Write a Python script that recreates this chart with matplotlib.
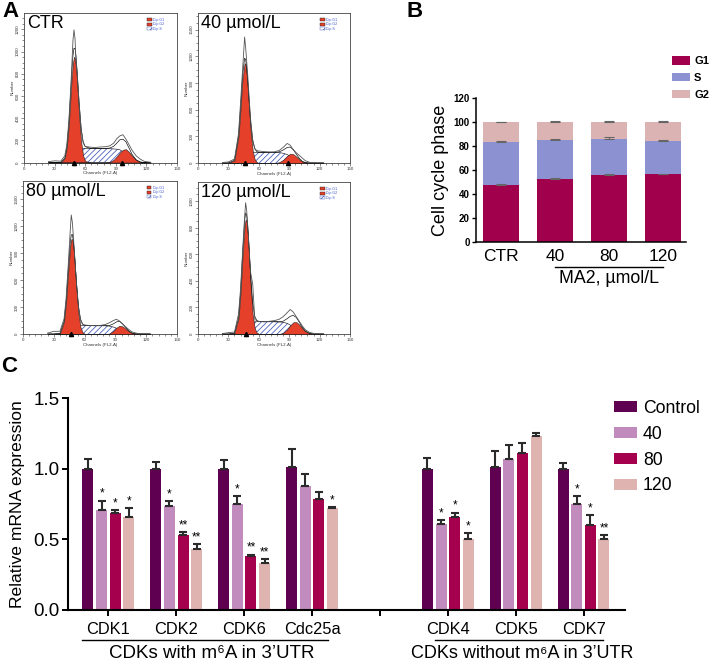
import matplotlib
matplotlib.use("Agg")
import matplotlib.pyplot as plt
import matplotlib.transforms as mtrans
import numpy as np
from matplotlib.patches import Patch
from matplotlib.ticker import MultipleLocator

plt.rcParams["font.family"] = ["Liberation Sans", "DejaVu Sans"]
plt.rcParams["hatch.linewidth"] = 0.55

# ---------------- panel A: DNA histograms (counts per channel) ----------------
CHANNELS = [24, 30, 36, 40, 42, 44, 46, 47, 48, 49, 50, 51, 52, 54, 56, 58, 60,
            65, 70, 75, 80, 84, 88, 91, 94, 97, 100, 103, 106, 110, 114, 118, 124]

CTR_RAW = [8, 15, 12, 60, 160, 380, 700, 900, 1100, 1195, 1120, 900, 820, 540, 300, 175, 145,
           138, 135, 140, 142, 150, 175, 215, 240, 250, 210, 160, 110, 60, 30, 10, 2]
CTR_G1 = [0, 0, 0, 40, 137, 342, 642, 787, 898, 952, 938, 860, 732, 427, 186, 60, 15,
          0, 0, 0, 0, 0, 0, 0, 0, 0, 0, 0, 0, 0, 0, 0, 0]
CTR_S = [0, 0, 0, 0, 0, 10, 35, 50, 65, 78, 90, 100, 108, 120, 127, 128, 128,
         127, 126, 126, 127, 125, 122, 120, 115, 95, 65, 35, 12, 2, 0, 0, 0]
CTR_G2 = [0, 0, 0, 0, 0, 0, 0, 0, 0, 0, 0, 0, 0, 0, 0, 0, 0,
          0, 0, 0, 0, 5, 25, 55, 90, 115, 120, 95, 60, 22, 5, 0, 0]
CTR_MARKS = [49.5, 96]

D40_RAW = [5, 12, 45, 330, 680, 1050, 1417, 1300, 1150, 1000, 820, 640, 480, 260, 165, 140, 135,
           128, 125, 125, 140, 175, 220, 200, 150, 115, 85, 55, 25, 8, 3, 1, 0]
D40_G1 = [0, 0, 31, 297, 611, 952, 1124, 1100, 1006, 858, 683, 507, 351, 138, 41, 9, 1,
          0, 0, 0, 0, 0, 0, 0, 0, 0, 0, 0, 0, 0, 0, 0, 0]
D40_S = [0, 0, 0, 5, 15, 35, 55, 65, 75, 85, 95, 102, 108, 115, 118, 120, 120,
         119, 118, 118, 117, 110, 95, 75, 50, 28, 12, 4, 0, 0, 0, 0, 0]
D40_G2 = [0, 0, 0, 0, 0, 0, 0, 0, 0, 0, 0, 0, 0, 0, 0, 0, 0,
          0, 0, 0, 8, 35, 80, 105, 100, 72, 40, 15, 5, 0, 0, 0, 0]
D40_MARKS = [46, 89]

D80_RAW = [10, 30, 30, 170, 400, 760, 1150, 1327, 1250, 1100, 930, 750, 580, 300, 150, 110, 100,
           95, 93, 95, 105, 125, 150, 164, 145, 110, 80, 50, 25, 10, 4, 2, 0]
D80_G1 = [0, 0, 8, 137, 354, 683, 983, 1057, 1057, 983, 849, 683, 510, 228, 76, 19, 3,
          0, 0, 0, 0, 0, 0, 0, 0, 0, 0, 0, 0, 0, 0, 0, 0]
D80_S = [0, 0, 0, 2, 8, 20, 35, 45, 55, 63, 70, 76, 81, 88, 92, 93, 93,
         93, 92, 92, 92, 88, 78, 65, 48, 30, 15, 5, 0, 0, 0, 0, 0]
D80_G2 = [0, 0, 0, 0, 0, 0, 0, 0, 0, 0, 0, 0, 0, 0, 0, 0, 0,
          0, 0, 0, 0, 5, 35, 70, 92, 85, 58, 30, 12, 3, 0, 0, 0]
D80_MARKS = [47]

D120_RAW = [3, 10, 15, 150, 340, 620, 880, 986, 930, 820, 700, 570, 460, 375, 110, 100, 95,
            92, 95, 100, 110, 130, 160, 184, 165, 130, 95, 60, 32, 12, 5, 2, 0]
D120_G1 = [0, 0, 7, 117, 303, 580, 815, 862, 841, 760, 637, 494, 354, 145, 43, 10, 2,
           0, 0, 0, 0, 0, 0, 0, 0, 0, 0, 0, 0, 0, 0, 0, 0]
D120_S = [0, 0, 0, 3, 10, 22, 38, 47, 55, 63, 70, 76, 80, 87, 91, 92, 92,
          92, 92, 92, 91, 88, 80, 68, 52, 34, 18, 7, 2, 0, 0, 0, 0]
D120_G2 = [0, 0, 0, 0, 0, 0, 0, 0, 0, 0, 0, 0, 0, 0, 0, 0, 0,
           0, 0, 0, 0, 8, 35, 65, 88, 90, 70, 42, 20, 5, 0, 0, 0]
D120_MARKS = [47]

# ---------------- panel B: cell cycle distribution (%) ----------------
B_GROUPS = ["CTR", "40", "80", "120"]
G1_PCT = [47.8, 52.5, 56.0, 56.3]
S_PCT = [35.9, 32.9, 30.0, 28.0]
G2_PCT = [16.3, 14.6, 14.0, 15.7]
G1_ERR = [0.8, 0.6, 0.9, 0.7]
S_ERR = [0.8, 0.5, 1.6, 0.5]
G2_ERR = [0.5, 0.7, 1.4, 1.1]

# ---------------- panel C: relative mRNA expression ----------------
GENES = ["CDK1", "CDK2", "CDK6", "Cdc25a", "", "CDK4", "CDK5", "CDK7"]
DOSES = ["Control", "40", "80", "120"]
EXPR = {
    "Control": [1.00, 1.00, 1.00, 1.01, np.nan, 1.00, 1.01, 1.00],
    "40":      [0.71, 0.74, 0.75, 0.88, np.nan, 0.61, 1.07, 0.75],
    "80":      [0.69, 0.53, 0.385, 0.79, np.nan, 0.66, 1.11, 0.60],
    "120":     [0.66, 0.43, 0.33, 0.72, np.nan, 0.50, 1.236, 0.50],
}
EXPR_ERR = {
    "Control": [0.07, 0.05, 0.065, 0.13, np.nan, 0.08, 0.12, 0.04],
    "40":      [0.065, 0.03, 0.055, 0.085, np.nan, 0.025, 0.10, 0.055],
    "80":      [0.02, 0.025, 0.008, 0.045, np.nan, 0.03, 0.07, 0.07],
    "120":     [0.065, 0.04, 0.03, 0.012, np.nan, 0.045, 0.016, 0.03],
}
STARS = {
    "Control": ["", "", "", "", "", "", "", ""],
    "40":      ["*", "*", "*", "", "", "*", "", "*"],
    "80":      ["*", "**", "**", "", "", "*", "", "*"],
    "120":     ["*", "**", "**", "*", "", "*", "", "**"],
}

RED = "#e5402a"
HATCH_BLUE = "#3f55b8"
B_COLORS = ["#a1004c", "#8c91d2", "#dcb3b3"]
C_COLORS = ["#5f0050", "#c28bbd", "#a4004e", "#deb3b0"]

W, H = 709, 662
fig = plt.figure(figsize=(W / 100, H / 100), dpi=100)


def px_axes(x0, y0, x1, y1):
    return fig.add_axes([x0 / W, 1 - y1 / H, (x1 - x0) / W, (y1 - y0) / H])


def draw_hist(ax, title, raw, g1, s, g2, marks, ymax, ystep):
    ch = np.array(CHANNELS)
    g1, s, g2 = np.array(g1), np.array(s), np.array(g2)
    ax.fill_between(ch, 0, s, facecolor="white", edgecolor=HATCH_BLUE,
                    hatch="//////", lw=0, zorder=1)
    ax.plot(ch, s, color="black", lw=0.4, zorder=2)
    ax.fill_between(ch, 0, g1, facecolor=RED, edgecolor="#222", lw=0.4, zorder=3)
    ax.fill_between(ch, 0, g2, facecolor=RED, edgecolor="#222", lw=0.4, zorder=3)
    # fitted model = sum of the components, raw histogram on top
    ax.plot(ch, g1 + s + g2, color="black", lw=0.45, zorder=4)
    ax.plot(ch, raw, color="#555", lw=0.6, zorder=5)
    ax.plot(marks, [0] * len(marks), ls="none", marker="^", ms=3,
            color="black", clip_on=False, zorder=6)

    ax.set_xlim(0, 150)
    ax.set_ylim(0, ymax)
    ax.xaxis.set_major_locator(MultipleLocator(30))
    ax.xaxis.set_minor_locator(MultipleLocator(6))
    ax.yaxis.set_major_locator(MultipleLocator(ystep))
    ax.yaxis.set_minor_locator(MultipleLocator(ystep / 4))
    ax.tick_params(which="both", labelsize=3.2, width=0.4, pad=1, color="#333",
                   labelcolor="#333")
    ax.tick_params(which="major", length=2)
    ax.tick_params(which="minor", length=1.2)
    for lab in ax.get_yticklabels():
        lab.set_rotation(90)
        lab.set_va("center")
    for sp in ax.spines.values():
        sp.set_linewidth(0.6)
        sp.set_color("#444")
    ax.set_xlabel("Channels (FL2-A)", fontsize=3.2, labelpad=0.5, color="#333")
    ax.set_ylabel("Number", fontsize=3.2, labelpad=1, color="#333")
    ax.text(0.02, 0.985, title, transform=ax.transAxes, ha="left", va="top",
            fontsize=13)
    handles = [Patch(facecolor=RED, edgecolor="#222", lw=0.3),
               Patch(facecolor=RED, edgecolor="#222", lw=0.3),
               Patch(facecolor="white", edgecolor=HATCH_BLUE, hatch="/////", lw=0.3)]
    leg = ax.legend(handles, ["Dip G1", "Dip G2", "Dip S"], loc="upper right",
                    bbox_to_anchor=(0.93, 0.98), fontsize=2.6, frameon=False,
                    handlelength=1.2, handleheight=0.9, labelspacing=0.15,
                    handletextpad=0.5, borderpad=0)
    for t in leg.get_texts():
        t.set_color("#3a55c8")


draw_hist(px_axes(24, 13, 177, 162.5), "CTR",
          CTR_RAW, CTR_G1, CTR_S, CTR_G2, CTR_MARKS, 1347, 200)
draw_hist(px_axes(198, 13, 350, 163), "40 µmol/L",
          D40_RAW, D40_G1, D40_S, D40_G2, D40_MARKS, 1687, 300)
draw_hist(px_axes(23, 181, 177, 334), "80 µmol/L",
          D80_RAW, D80_G1, D80_S, D80_G2, D80_MARKS, 1706, 300)
draw_hist(px_axes(198, 182, 350, 334), "120 µmol/L",
          D120_RAW, D120_G1, D120_S, D120_G2, D120_MARKS, 1142, 200)

# ---------------- panel B ----------------
axb = px_axes(476, 98.3, 686, 241.7)
xb = np.arange(len(B_GROUPS))
g1 = np.array(G1_PCT)
s = np.array(S_PCT)
g2 = np.array(G2_PCT)
bw = 0.667
axb.bar(xb, g1, width=bw, color=B_COLORS[0], label="G1", zorder=2)
axb.bar(xb, s, width=bw, bottom=g1, color=B_COLORS[1], label="S", zorder=2)
axb.bar(xb, g2, width=bw, bottom=g1 + s, color=B_COLORS[2], label="G2", zorder=2)
zeros = np.zeros(len(xb))
for top, err in [(g1, G1_ERR), (g1 + s, S_ERR), (g1 + s + g2, G2_ERR)]:
    axb.errorbar(xb, top, yerr=[zeros, err], fmt="none", ecolor="#666",
                 elinewidth=0.8, capsize=3.5, capthick=0.8, zorder=3)
axb.set_xlim(-0.47, 3.43)
axb.set_ylim(0, 120)
axb.yaxis.set_major_locator(MultipleLocator(20))
axb.set_xticks(xb)
axb.set_xticklabels(B_GROUPS, fontsize=12.5)
axb.tick_params(axis="x", length=0, pad=5)
axb.tick_params(axis="y", length=3, width=1, labelsize=7, pad=1.5)
for lab in axb.get_yticklabels():
    lab.set_fontweight("bold")
for side in ("top", "right"):
    axb.spines[side].set_visible(False)
for side in ("left", "bottom"):
    axb.spines[side].set_linewidth(1.1)
axb.set_ylabel("Cell cycle phase", fontsize=13, labelpad=3)
tb = mtrans.blended_transform_factory(axb.transData, axb.transAxes)
axb.plot([1, 3], [-0.174, -0.174], color="black", lw=1, transform=tb, clip_on=False)
axb.text(2, -0.255, "MA2, µmol/L", transform=tb, ha="center", va="center", fontsize=12.8)
legb = axb.legend(loc="upper left", bbox_to_anchor=(672 / W, 1 - 56 / H),
                  bbox_transform=fig.transFigure, frameon=False, fontsize=8,
                  handlelength=1.6, handleheight=0.8, labelspacing=0.6,
                  handletextpad=0.4, borderpad=0, borderaxespad=0)
for t in legb.get_texts():
    t.set_fontweight("bold")

# ---------------- panel C ----------------
axc = px_axes(68.3, 398.3, 625, 610)
xc = np.arange(len(GENES))
offsets = [-0.3, -0.1, 0.1, 0.3]
cw = 0.162
for dose, off, col in zip(DOSES, offsets, C_COLORS):
    vals = np.array(EXPR[dose])
    errs = np.array(EXPR_ERR[dose])
    axc.bar(xc + off, vals, width=cw, color=col, label=dose, zorder=2)
    axc.errorbar(xc + off, vals, yerr=[np.zeros(len(xc)), errs], fmt="none",
                 ecolor="#2b2b2b", elinewidth=1.5, capsize=2.6, capthick=1.5, zorder=3)
    for xi, v, e, st in zip(xc + off, vals, errs, STARS[dose]):
        if st:
            axc.text(xi, v + e + 0.005, st, ha="center", va="bottom", fontsize=8.5)
axc.set_xlim(-0.59, 7.61)
axc.set_ylim(0, 1.5)
axc.yaxis.set_major_locator(MultipleLocator(0.5))
axc.yaxis.set_major_formatter(matplotlib.ticker.FormatStrFormatter("%.1f"))
axc.set_xticks(xc)
axc.set_xticklabels(GENES, fontsize=11.8)
axc.tick_params(axis="both", length=4.5, width=1.4)
axc.tick_params(axis="y", labelsize=13.5, pad=2)
axc.tick_params(axis="x", pad=4)
for side in ("top", "right"):
    axc.spines[side].set_visible(False)
for side in ("left", "bottom"):
    axc.spines[side].set_linewidth(1.5)
axc.set_ylabel("Relative mRNA expression", fontsize=12.6, labelpad=6)
tc = mtrans.blended_transform_factory(axc.transData, axc.transAxes)
axc.plot([-0.39, 3.24], [-0.142, -0.142], color="black", lw=1, transform=tc, clip_on=False)
axc.plot([4.81, 7.29], [-0.142, -0.142], color="black", lw=1, transform=tc, clip_on=False)
axc.text(1.53, -0.205, "CDKs with m⁶A in 3’UTR", transform=tc, ha="center",
         va="center", fontsize=13.5)
axc.text(6.1, -0.205, "CDKs without m⁶A in 3’UTR", transform=tc, ha="center",
         va="center", fontsize=13)
axc.legend(loc="upper left", bbox_to_anchor=(614 / W, 1 - 400 / H),
           bbox_transform=fig.transFigure, frameon=False, fontsize=12.7,
           handlelength=1.3, handleheight=0.6, labelspacing=0.5,
           handletextpad=0.35, borderpad=0, borderaxespad=0)

# panel letters
for letter, x, y in [("A", 2, 1), ("B", 406, 1), ("C", 1, 356)]:
    fig.text(x / W, 1 - y / H, letter, ha="left", va="top", fontsize=16,
             fontweight="bold")

fig.savefig("out.png", dpi=100)
